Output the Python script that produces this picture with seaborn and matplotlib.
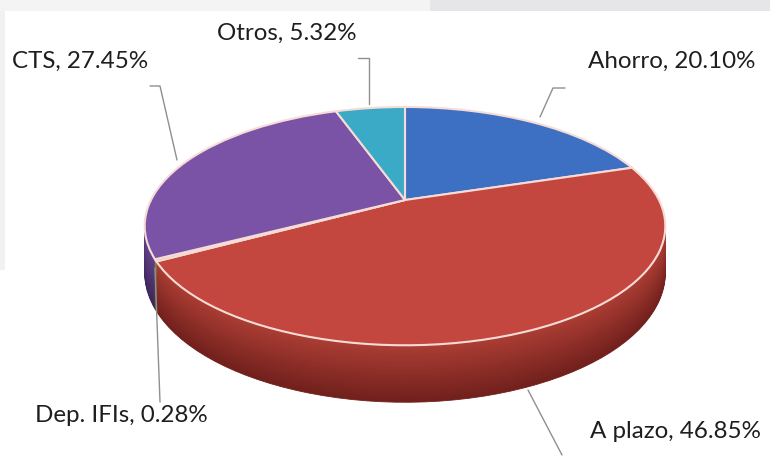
import numpy as np
import matplotlib
matplotlib.use("Agg")
import matplotlib.pyplot as plt
import seaborn as sns
from matplotlib.transforms import Transform
from matplotlib.patches import Rectangle
from matplotlib.colors import to_rgb

# ---- data ----
categories = ["Ahorro", "A plazo", "Dep. IFIs", "CTS", "Otros"]
shares = [20.10, 46.85, 0.28, 27.45, 5.32]
top_colors = ["#3d70c2", "#c3463f", "#9bbb59", "#7a52a6", "#3aaac6"]
wall_top = ["#34609f", "#ab3d34", "#7c9a45", "#63428b", "#2f8aa3"]
wall_bottom = ["#22406f", "#71201c", "#4d6128", "#3e2759", "#1c5566"]

sns.set_theme(style="white")
plt.rcParams["font.family"] = ["Lato", "DejaVu Sans"]

W, H = 770, 457


class Tilt(Transform):
    """Perspective view of a flat unit disc, dropped by `drop` pixels."""
    input_dims = 2
    output_dims = 2
    is_separable = False
    has_inverse = False

    def __init__(self, drop=0.0, cx=405.0, cy=H - 200.0, sx=254.0, sy=113.4, k=0.219):
        super().__init__()
        self.drop, self.cx, self.cy, self.sx, self.sy, self.k = drop, cx, cy, sx, sy, k

    def transform_non_affine(self, values):
        values = np.asarray(values, dtype=float)
        u, v = values[:, 0], values[:, 1]
        w = 1.0 + self.k * v
        return np.column_stack([self.cx + self.sx * u / w,
                                self.cy + (self.sy * v - self.drop) / w])


def blend(c1, c2, t):
    a, b = np.array(to_rgb(c1)), np.array(to_rgb(c2))
    return tuple(a * (1 - t) + b * t)


fig = plt.figure(figsize=(W / 100, H / 100), dpi=100)
fig.patch.set_facecolor("white")
ax = fig.add_axes([0, 0, 1, 1])

# faint screenshot background bits
ax.add_patch(Rectangle((430, H - 11), 340, 11, color="#e6e6e8", lw=0, zorder=0))
ax.add_patch(Rectangle((0, H - 11), 430, 11, color="#f4f4f5", lw=0, zorder=0))
ax.add_patch(Rectangle((0, H - 270), 5, 259, color="#f1f1f2", lw=0, zorder=0))

# side wall: stacked layers
n_layers = 48
drops = np.linspace(44.5, 0.5, n_layers)
for i, dz in enumerate(drops):
    t = i / (n_layers - 1)
    cols = [blend(b, tp, t) for b, tp in zip(wall_bottom, wall_top)]
    wedges, _ = ax.pie(shares, colors=cols, startangle=90, counterclock=False,
                       radius=1, wedgeprops=dict(linewidth=0.6))
    for wdg, c in zip(wedges, cols):
        wdg.set_edgecolor(c)
        wdg.set_transform(Tilt(dz) + ax.transData)

# top face
wedges, _ = ax.pie(shares, colors=top_colors, startangle=90, counterclock=False,
                   radius=1, wedgeprops=dict(linewidth=1.5, edgecolor="#f7dcd6"))
for wdg in wedges:
    wdg.set_transform(Tilt(0) + ax.transData)

ax.set_xlim(0, W)
ax.set_ylim(0, H)
ax.set_aspect("auto")
ax.axis("off")

# labels (left x, center y measured from top)
label_pos = {
    "Ahorro": (588, 61),
    "A plazo": (590, 431),
    "Dep. IFIs": (35, 416),
    "CTS": (12, 61),
    "Otros": (217, 33),
}
for cat, val in zip(categories, shares):
    x, y = label_pos[cat]
    ax.text(x, H - y, f"{cat}, {val:.2f}%", ha="left", va="center",
            fontsize=17.4, color="#1e1e1e")

# leader lines (pixel coords, y from top)
leaders = [
    [(565, 88), (553, 88), (540, 117)],
    [(528, 390), (562, 455)],
    [(155, 268), (160, 402)],
    [(150, 86), (160, 86), (177, 160)],
    [(358, 58), (369, 58), (369, 104)],
]
for pts in leaders:
    xs = [p[0] for p in pts]
    ys = [H - p[1] for p in pts]
    ax.plot(xs, ys, color="#8f8f8f", lw=1.0, zorder=5)

fig.savefig("out.png", dpi=100, facecolor="white")
